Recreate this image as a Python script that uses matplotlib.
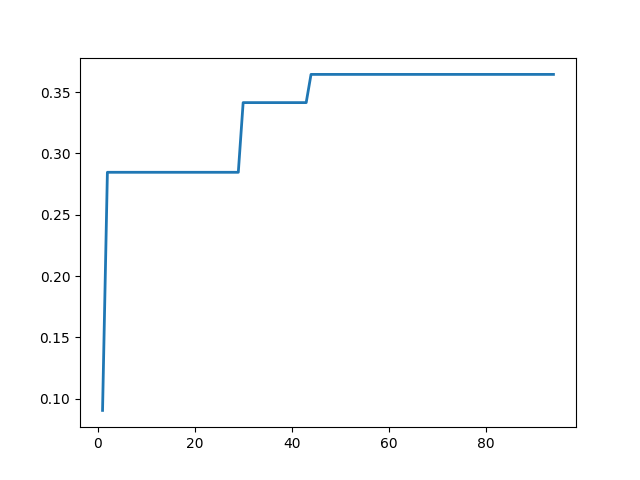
import matplotlib.pyplot as plt

# best score so far, one value per iteration (1..94)
iterations = list(range(1, 95))
first = [0.0905]
plateau_1 = [0.2846] * 28   # iterations 2-29
plateau_2 = [0.3414] * 14   # iterations 30-43
plateau_3 = [0.3644] * 51   # iterations 44-94
best_score = first + plateau_1 + plateau_2 + plateau_3

plt.figure(figsize=(6.4, 4.8))

plt.plot(iterations, best_score, linewidth=2)

plt.savefig("out.png", dpi=100)

plt.close()
